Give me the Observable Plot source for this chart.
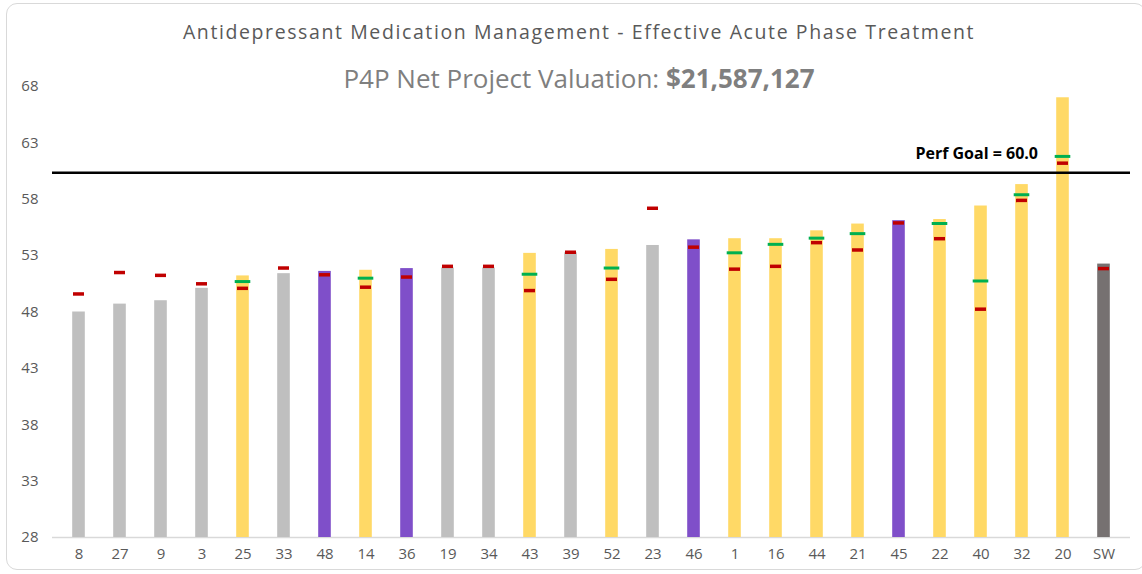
<!DOCTYPE html>
<html>
<head>
<meta charset="utf-8">
<script src="https://cdn.jsdelivr.net/npm/d3@7"></script>
<script src="https://cdn.jsdelivr.net/npm/@observablehq/plot@0.6"></script>
<style>
  html, body { margin: 0; padding: 0; background: #fff; }
  #wrap { position: relative; width: 1142px; height: 574px; overflow: hidden; font-family: "Open Sans", sans-serif; }
  #frame { position: absolute; left: 6px; top: 3px; width: 1140px; height: 567px; border: 1.5px solid #d9d9d9; border-radius: 11px; box-sizing: border-box; }
  #title { position: absolute; left: 0; width: 1158px; top: 18px; text-align: center; font-size: 19.5px; color: #595959; letter-spacing: 1.6px; white-space: nowrap; }
  #subtitle { position: absolute; left: 0; width: 1158px; top: 60px; text-align: center; font-size: 26px; color: #7f7f7f; white-space: nowrap; }
  #subtitle b { font-weight: 700; }
  #chart { position: absolute; left: 0; top: 0; }
</style>
</head>
<body>
<div id="wrap">
  <div id="frame"></div>
  <div id="chart"></div>
  <div id="title"></div>
  <div id="subtitle"></div>
</div>
<script>
const titleText = "Antidepressant Medication Management - Effective Acute Phase Treatment";
const subtitleLabel = "P4P Net Project Valuation: ";
const subtitleValue = "$21,587,127";

const categories = ["8","27","9","3","25","33","48","14","36","19","34","43","39","52","23","46","1","16","44","21","45","22","40","32","20","SW"];
const rates      = [48.0,48.7,49.0,50.1,51.2,51.4,51.6,51.7,51.85,51.9,51.9,53.2,53.25,53.55,53.9,54.4,54.5,54.5,55.2,55.8,56.1,56.2,57.4,59.3,67.0,52.25];
const redMarks   = [49.6,51.5,51.25,50.5,50.1,51.9,51.3,50.2,51.1,52.05,52.05,49.9,53.3,50.9,57.2,53.75,51.8,52.05,54.15,53.5,55.9,54.5,48.25,57.9,61.2,51.85];
const greenMarks = [null,null,null,null,50.7,null,null,51.0,null,null,null,51.35,null,51.9,null,null,53.25,54.0,54.55,54.95,null,55.85,50.75,58.4,61.8,null];
const groups     = ["gray","gray","gray","gray","yellow","gray","purple","yellow","purple","gray","gray","yellow","gray","yellow","gray","purple","yellow","yellow","yellow","yellow","purple","yellow","yellow","yellow","yellow","sw"];
const groupNames  = ["gray","yellow","purple","sw"];
const groupColors = ["#bfbfbf","#ffd966","#7f4fc9","#767171"];
const yTicks = [28,33,38,43,48,53,58,63,68];
const goalValue = 60;
const goalLabel = "Perf Goal = 60.0";

document.getElementById("title").textContent = titleText;
const sub = document.getElementById("subtitle");
sub.appendChild(document.createTextNode(subtitleLabel));
const b = document.createElement("b"); b.textContent = subtitleValue; sub.appendChild(b);

const rows = categories.map((c, i) => ({cat: c, rate: rates[i], red: redMarks[i], green: greenMarks[i], group: groups[i]}));
const yMin = yTicks[0], yMax = yTicks[yTicks.length - 1];

const chart = Plot.plot({
  width: 1142,
  height: 574,
  marginLeft: 52,
  marginRight: 12,
  marginTop: 86,
  marginBottom: 37,
  style: {fontFamily: "'Open Sans', sans-serif", background: "transparent", overflow: "visible"},
  x: {domain: categories, padding: 0, label: null},
  y: {domain: [yMin, yMax], ticks: yTicks, label: null},
  color: {domain: groupNames, range: groupColors},
  marks: [
    Plot.axisX({tickSize: 0, tickPadding: 11, fontSize: 15, fill: "#595959", label: null}),
    Plot.axisY({ticks: yTicks, tickSize: 0, tickPadding: 14, fontSize: 15, fill: "#595959", label: null}),
    Plot.ruleY([yMin], {stroke: "#d9d9d9", strokeWidth: 1.5}),
    Plot.barY(rows, {x: "cat", y1: () => yMin, y2: "rate", fill: "group", insetLeft: 14.2, insetRight: 14.2}),
    Plot.tickY(rows.filter(d => d.green != null), {x: "cat", y: "green", stroke: "#00b050", strokeWidth: 3, insetLeft: 12.7, insetRight: 12.7}),
    Plot.tickY(rows, {x: "cat", y: "red", stroke: "#c00000", strokeWidth: 3.5, insetLeft: 15, insetRight: 15}),
    Plot.ruleY([goalValue], {stroke: "#000", strokeWidth: 2.5, dy: -4}),
    Plot.text([goalLabel], {x: () => categories[categories.length - 2], y: () => goalValue, text: d => d, textAnchor: "end", dx: -25, dy: -23, fontSize: 16, fontWeight: "bold", fill: "#000"})
  ]
});
document.getElementById("chart").appendChild(chart);
</script>
</body>
</html>
